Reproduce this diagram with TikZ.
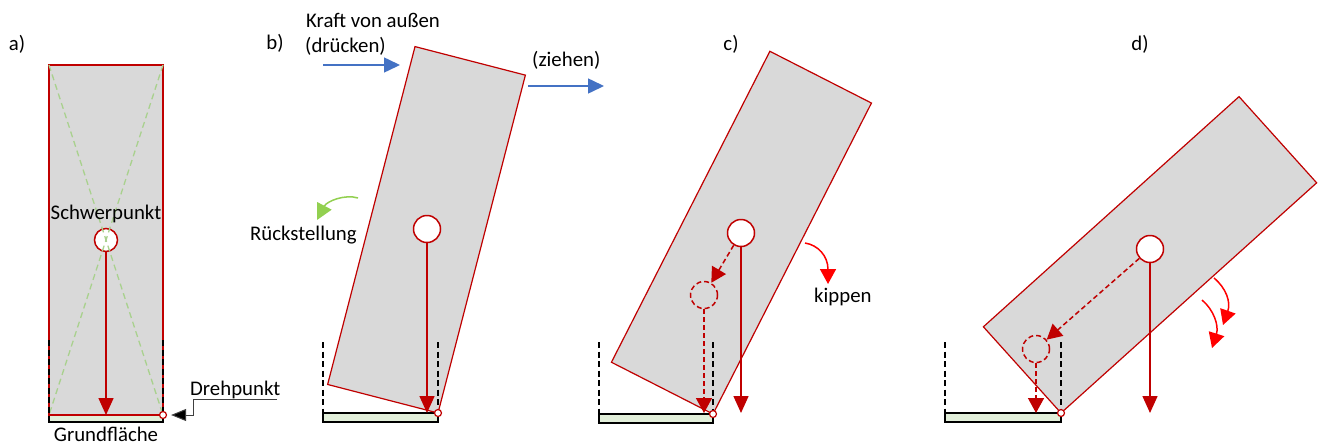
\documentclass[tikz,border=0pt]{standalone}
\usepackage{fontspec}
\setmainfont{Carlito}
\usetikzlibrary{arrows.meta}
\definecolor{rot}{HTML}{C00000}
\definecolor{hellrot}{HTML}{FF0000}
\definecolor{blau}{HTML}{4472C4}
\definecolor{gruen}{HTML}{92D050}
\definecolor{hellgruen}{HTML}{A9D18E}
\definecolor{boden}{HTML}{E2EFDA}
\definecolor{grau}{HTML}{D9D9D9}
\begin{document}
\begin{tikzpicture}[x=1pt,y=-1pt,
  txt/.style={font=\fontsize{20.8}{25}\selectfont, inner sep=0pt, text=black},
  block/.style={fill=grau, draw=rot, line width=1.2pt, line join=miter},
  plate/.style={fill=boden, draw=black, line width=1.2pt},
  bound/.style={draw=black, dash pattern=on 6pt off 3.5pt, line width=1.3pt},
  diag/.style={draw=hellgruen, dash pattern=on 6pt off 4pt, line width=1.3pt},
  cog/.style={circle, draw=rot, fill=white, line width=1.5pt, minimum size=27pt, inner sep=0pt},
  ghost/.style={circle, draw=rot, line width=1.5pt, minimum size=27pt, inner sep=0pt, dash pattern=on 5pt off 3pt},
  pivot/.style={circle, draw=rot, fill=white, line width=1.2pt, minimum size=7pt, inner sep=0pt},
  weight/.style={draw=rot, line width=1.5pt, -{Triangle[length=17pt,width=15pt]}},
  shiftarrow/.style={draw=rot, line width=1.5pt, dash pattern=on 5pt off 3pt, -{Triangle[length=15pt,width=16pt]}},
  push/.style={draw=blau, line width=1.5pt, -{Triangle[length=16pt,width=15pt]}},
  turn/.style={draw=hellrot, line width=1.5pt, -{Triangle[length=15pt,width=16pt]}},
  back/.style={draw=gruen, line width=1.5pt, -{Triangle[length=16pt,width=16pt]}},
  lead/.style={draw=black!75, line width=1pt, -{Triangle[length=15pt,width=12pt,fill=black]}, shorten >=4pt}
]
\useasboundingbox (0,0) rectangle (1319,445);

% ---------- labels of panels
\node[txt] (la) at (17,44) {a)};
\node[txt] (lb) at (275,43) {b)};
\node[txt] (lc) at (731,44) {c)};
\node[txt] (ld) at (1140,44) {d)};

% ---------- panel a
\path[plate] (49,415) rectangle (163,422);
\path[block] (49,415) rectangle (163,65);
\node[cog, minimum size=23pt] (aC) at (106,240) {};
\coordinate (aTL) at (49,65);
\coordinate (aTR) at (163,65);
\coordinate (aBL) at (49,415);
\coordinate (aBR) at (163,415);
\draw[diag] (aTL) -- (aBR);
\draw[diag] (aTR) -- (aBL);
\coordinate (aG) at (106,415);
\draw[weight] (aC) -- (aG);
\draw[rot, line width=1.2pt] (aBL) -- (aBR);
\draw[bound] (49,340) -- (aBL);
\draw[bound] (163,340) -- (aBR);
\node[txt, anchor=base] (schwer) at (106,219) {Schwerpunkt};
\node[txt, anchor=base] (grund) at (106,441) {Grundfläche};
\node[pivot] (aP) at (aBR) {};
\node[txt, anchor=base west] (dreh) at (190,395) {Drehpunkt};
\coordinate (dp1) at (277,399);
\coordinate (dp2) at (193,399);
\draw[lead] (dp1) -- (dp2) |- (aP);

% ---------- panel b
\path[plate] (323,413) rectangle (438,422);
\begin{scope}[shift={(438,413)}, rotate=-14.5]
  \path[block] (0,0) -- (-114,0) -- (-114,-349) -- (0,-349) -- cycle;
\end{scope}
\draw[bound] (323,342) -- (323,413);
\draw[bound] (438,342) -- (438,413);
\node[cog] (bC) at (427,229) {};
\coordinate (bG) at (427,413);
\draw[weight] (bC) -- (bG);
\node[pivot] (bP) at (438,413) {};
\node[txt, anchor=base west] (kraft) at (306,27) {Kraft von außen};
\node[txt, anchor=base west] (druck) at (305,52) {(drücken)};
\coordinate (p1s) at (323,65);
\coordinate (p1e) at (400,65);
\draw[push] (p1s) -- (p1e);
\node[txt, anchor=base west] (zieh) at (532,66) {(ziehen)};
\coordinate (p2s) at (528,86);
\coordinate (p2e) at (604,86);
\draw[push] (p2s) -- (p2e);
\node[txt, anchor=base west] (rueck) at (250,240) {Rückstellung};
\coordinate (r1) at (358,198);
\coordinate (r2) at (317,220);
\draw[back] (r1) .. controls (345,194) and (327,201) .. (r2);

% ---------- panel c
\path[plate] (599,414) rectangle (713,423);
\begin{scope}[shift={(713,414)}, rotate=-27]
  \path[block] (0,0) -- (-114,0) -- (-114,-349) -- (0,-349) -- cycle;
\end{scope}
\draw[bound] (599,342) -- (599,414);
\draw[bound] (713,342) -- (713,414);
\node[cog] (cC) at (741,233) {};
\node[ghost] (cD) at (704,295) {};
\coordinate (cG1) at (741,413);
\coordinate (cG2) at (704,413);
\draw[shiftarrow] (cC) -- (cD);
\draw[shiftarrow] (cD) -- (cG2);
\draw[weight] (cC) -- (cG1);
\node[pivot] (cP) at (713,414) {};
\coordinate (k1) at (805,243);
\coordinate (k2) at (828,284);
\draw[turn] (k1) .. controls (818,245) and (828,256) .. (k2);
\node[txt, anchor=base west] (kipp) at (814,302) {kippen};

% ---------- panel d
\path[plate] (945,413) rectangle (1061,422);
\begin{scope}[shift={(1061,413)}, rotate=-48]
  \path[block] (0,0) -- (-116,0) -- (-116,-344) -- (0,-344) -- cycle;
\end{scope}
\draw[bound] (945,342) -- (945,413);
\draw[bound] (1061,342) -- (1061,413);
\node[cog] (dC) at (1150,249) {};
\node[ghost] (dD) at (1036,349) {};
\coordinate (dG1) at (1150,413);
\coordinate (dG2) at (1036,413);
\draw[shiftarrow] (dC) -- (dD);
\draw[shiftarrow] (dD) -- (dG2);
\draw[weight] (dC) -- (dG1);
\node[pivot] (dP) at (1061,413) {};
\coordinate (t1s) at (1214,278);
\coordinate (t1e) at (1223,325);
\draw[turn] (t1s) .. controls (1226,288) and (1231,302) .. (t1e);
\coordinate (t2s) at (1202,300);
\coordinate (t2e) at (1212,348);
\draw[turn] (t2s) .. controls (1214,310) and (1219,326) .. (t2e);
\end{tikzpicture}
\end{document}
